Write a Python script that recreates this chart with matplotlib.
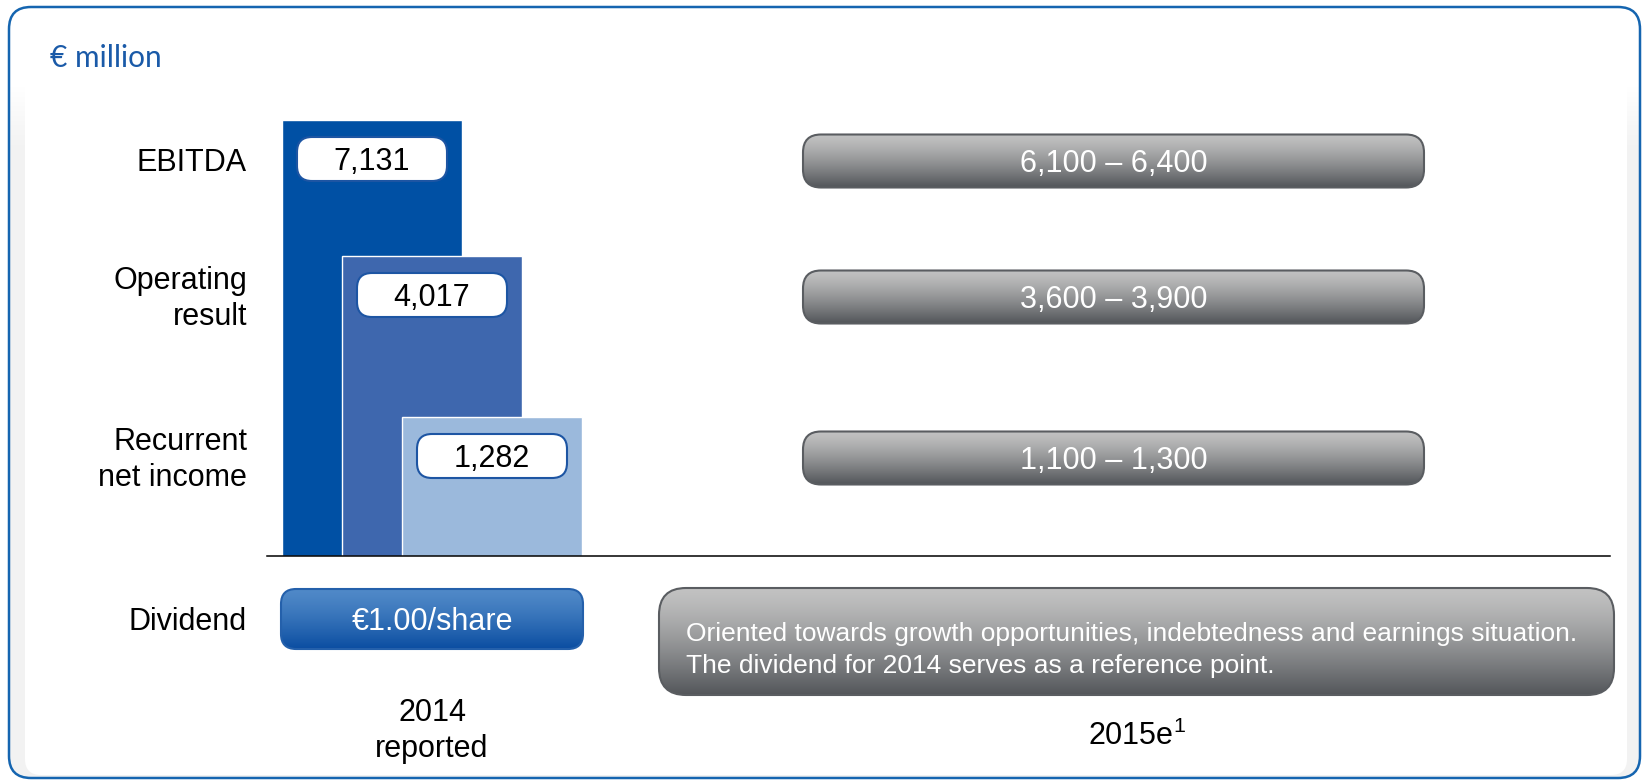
import numpy as np
import matplotlib
matplotlib.use("Agg")
import matplotlib.pyplot as plt
from matplotlib.patches import FancyBboxPatch, Rectangle
from matplotlib.colors import to_rgb

# ---------------- data ----------------
categories = ["EBITDA", "Operating\nresult", "Recurrent\nnet income"]
values_2014 = [7131, 4017, 1282]
range_2015_low = [6100, 3600, 1100]
range_2015_high = [6400, 3900, 1300]
dividend_label = "Dividend"
dividend_2014 = 1.00
dividend_2015_lines = ["Oriented towards growth opportunities, indebtedness and earnings situation.",
                       "The dividend for 2014 serves as a reference point."]
column_labels = ["2014\nreported", "2015e$^{1}$"]
unit_label = "\u20ac million"

# ---------------- style / layout ----------------
plt.rcParams['font.family'] = ['Liberation Sans', 'DejaVu Sans']
plt.rcParams['mathtext.fontset'] = 'custom'
plt.rcParams['mathtext.rm'] = 'Liberation Sans'
plt.rcParams['mathtext.it'] = 'Liberation Sans'

W, H = 1642, 780
fig = plt.figure(figsize=(W / 100, H / 100), dpi=100)
ax = fig.add_axes([0, 0, 1, 1])
ax.set_xlim(0, W)
ax.set_ylim(H, 0)
ax.axis('off')

bar_colors = ['#0050a4', '#3e67ae', '#9bb9dc']
row_centers = [159, 295, 456]
div_center = 619
baseline_y = 556
bar_left0, bar_step, bar_w = 282, 60, 180
FS = 22
TXT_DY = 3  # visual offset so glyphs sit centred like the reference

def gradient_box(x0, y0, x1, y1, r, c_top, c_bot, edge, lw=1.5, z=3):
    patch = FancyBboxPatch((x0, y0), x1 - x0, y1 - y0,
                           boxstyle=f"round,pad=0,rounding_size={r}",
                           facecolor='none', edgecolor=edge, linewidth=lw, zorder=z + 1)
    ax.add_patch(patch)
    t = np.linspace(0, 1, 256)[:, None, None]
    ct, cb = np.array(to_rgb(c_top)), np.array(to_rgb(c_bot))
    g = ct * (1 - t ** 1.3) + cb * t ** 1.3
    im = ax.imshow(g, extent=(x0, x1, y1, y0), origin='upper', aspect='auto',
                   zorder=z, interpolation='bilinear')
    im.set_clip_path(patch)
    return patch

# ---------------- frame ----------------
outer_fill = FancyBboxPatch((9, 7), W - 9 - 2, H - 7 - 2, boxstyle="round,pad=0,rounding_size=22",
                            facecolor='#f2f2f2', edgecolor='none', zorder=0.2)
ax.add_patch(outer_fill)
inner = FancyBboxPatch((25, 8), 1602, 767, boxstyle="round,pad=0,rounding_size=16",
                       facecolor='white', edgecolor='none', zorder=0.5)
ax.add_patch(inner)
top_white = Rectangle((9, 7), W - 11, 80, facecolor='white', edgecolor='none', zorder=0.6)
ax.add_patch(top_white)
top_white.set_clip_path(outer_fill)
# soft fade of the grey side shading below the header
fade = np.ones((64, 1, 4))
fade[:, 0, 3] = np.linspace(1, 0, 64)
im_f = ax.imshow(fade, extent=(9, W - 2, 150, 87), origin='upper', aspect='auto',
                 zorder=0.6, interpolation='bilinear')
im_f.set_clip_path(outer_fill)
outer = FancyBboxPatch((9, 7), W - 9 - 2, H - 7 - 2, boxstyle="round,pad=0,rounding_size=22",
                       facecolor='none', edgecolor='#1565b0', linewidth=1.8, zorder=1)
ax.add_patch(outer)

ax.text(50, 58, unit_label, color='#1a5aa8', fontsize=21.5, family=['Lato', 'DejaVu Sans'],
        ha='left', va='center', zorder=5)

# ---------------- bars (2014 reported) ----------------
n = len(categories)
bar_lefts = [bar_left0 + i * bar_step for i in range(n)]
bar_tops = [rc - 39 for rc in row_centers]
ax.bar(bar_lefts, [baseline_y - t for t in bar_tops], bottom=bar_tops, width=bar_w,
       align='edge', color=bar_colors, edgecolor='white', linewidth=1.0, zorder=2)

pill_w, pill_h = 150, 44
for i in range(n):
    cx = bar_lefts[i] + bar_w / 2
    cy = row_centers[i]
    p = FancyBboxPatch((cx - pill_w / 2, cy - pill_h / 2), pill_w, pill_h,
                       boxstyle="round,pad=0,rounding_size=15",
                       facecolor='white', edgecolor='#1d55a3', linewidth=1.5, zorder=3)
    ax.add_patch(p)
    ax.text(cx, cy + TXT_DY, f"{values_2014[i]:,}", fontsize=FS, ha='center', va='center',
            color='black', zorder=4)

# row labels
for i in range(n):
    ax.text(247, row_centers[i] + 4, categories[i], fontsize=FS, ha='right', va='center',
            color='black', linespacing=1.25, zorder=5)
ax.text(247, div_center + TXT_DY, dividend_label, fontsize=FS, ha='right', va='center',
        color='black', zorder=5)

# baseline
ax.plot([267, 1610], [baseline_y, baseline_y], color='black', linewidth=1.1, zorder=3)

# ---------------- 2015e ranges ----------------
gx0, gx1, gh = 803, 1424, 53
for i in range(n):
    cy = row_centers[i] + 2
    gradient_box(gx0, cy - gh / 2, gx1, cy + gh / 2, 18, '#c2c2c2', '#53565a', '#5a5d61')
    ax.text((gx0 + gx1) / 2, cy + TXT_DY, f"{range_2015_low[i]:,} \u2013 {range_2015_high[i]:,}",
            fontsize=FS, ha='center', va='center', color='white', zorder=6)

# ---------------- dividend row ----------------
dx0 = bar_lefts[0] - 1
dx1 = bar_lefts[-1] + bar_w + 1
gradient_box(dx0, div_center - 30, dx1, div_center + 30, 15, '#5089c8', '#0a4da1', '#2460ab')
ax.text((dx0 + dx1) / 2, div_center + TXT_DY, f"\u20ac{dividend_2014:.2f}/share", fontsize=FS,
        ha='center', va='center', color='white', zorder=6)

bx0, bx1, by0, by1 = 659, 1614, 588, 695
gradient_box(bx0, by0, bx1, by1, 27, '#c2c2c2', '#53565a', '#5a5d61')
for k, line in enumerate(dividend_2015_lines):
    ax.text(686, 634 + 32 * k, line, fontsize=19, ha='left', va='center',
            color='white', zorder=6)

# ---------------- column labels ----------------
ax.text((dx0 + dx1) / 2, 731, column_labels[0], fontsize=FS, ha='center', va='center',
        color='black', linespacing=1.25)
ax.text((bx0 + bx1) / 2, 736, column_labels[1], fontsize=FS, ha='center', va='center',
        color='black')

fig.savefig("out.png", dpi=100)
